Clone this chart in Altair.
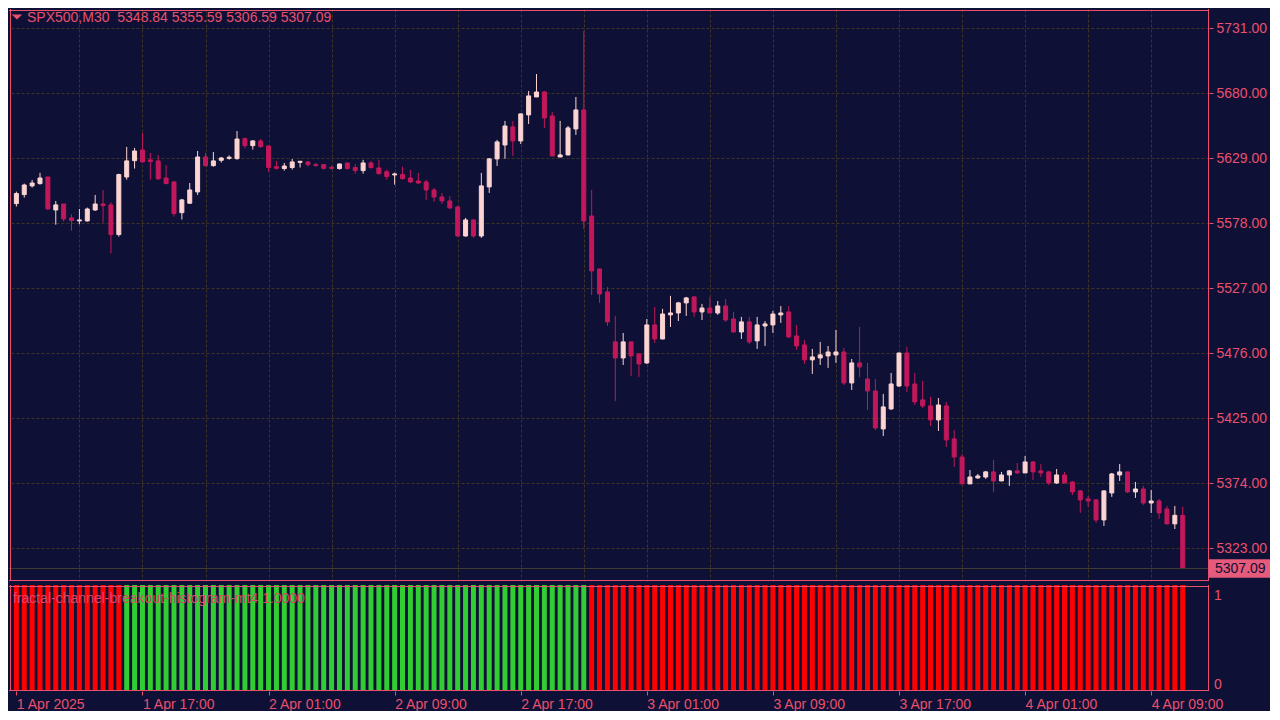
import json
import altair as alt
import pandas as pd

# ---------------- data ----------------
header_text = "SPX500,M30\u00a0\u00a05348.84 5355.59 5306.59 5307.09"
indicator_name = "fractal-channel-breakout-histogram-mt4 1.0000"

opens = [
    5593.4, 5600.5, 5607.3, 5609.1, 5614.3, 5588.4, 5593.1, 5582.2, 5579.8, 5579.8,
    5588.4, 5593.1, 5592.4, 5569.1, 5614.3, 5627.1, 5635.5, 5627.7, 5626.9, 5613.5,
    5610.4, 5586.3, 5593.7, 5602.6, 5630.0, 5623.2, 5627.4, 5628.9, 5628.7, 5644.4,
    5638.9, 5642.6, 5638.6, 5622.4, 5620.9, 5621.7, 5625.8, 5626.1, 5624.0, 5624.0,
    5621.9, 5620.9, 5625.3, 5621.7, 5619.3, 5625.3, 5621.4, 5618.5, 5615.9, 5616.2,
    5613.5, 5611.2, 5610.4, 5604.1, 5598.6, 5595.5, 5590.8, 5568.0, 5580.6, 5568.0,
    5606.5, 5628.5, 5639.4, 5653.6, 5642.6, 5663.0, 5677.1, 5681.0, 5662.2, 5630.0,
    5631.6, 5652.0, 5666.9, 5583.7, 5542.1, 5524.1, 5484.9, 5472.3, 5484.9, 5475.5,
    5468.4, 5498.2, 5487.2, 5506.1, 5507.6, 5515.5, 5520.2, 5508.4, 5511.5, 5507.6,
    5513.1, 5502.9, 5492.7, 5500.6, 5485.7, 5497.4, 5498.2, 5506.1, 5508.4, 5489.6,
    5482.5, 5470.8, 5472.3, 5473.9, 5474.7, 5477.0, 5452.7, 5468.4, 5455.8, 5446.4,
    5416.6, 5432.3, 5450.3, 5476.2, 5451.9, 5439.4, 5434.7, 5423.7, 5434.7, 5408.8,
    5394.6, 5373.5, 5378.2, 5378.9, 5382.9, 5375.8, 5380.5, 5383.7, 5382.1, 5390.7,
    5383.7, 5382.9, 5374.2, 5380.5, 5375.0, 5368.0, 5361.7, 5360.9, 5345.2, 5366.4,
    5380.5, 5382.9, 5367.2, 5369.5, 5358.5, 5360.1, 5353.8, 5342.1, 5348.84,
]
highs = [
    5602.8, 5609.1, 5612.0, 5617.5, 5614.3, 5595.5, 5593.1, 5585.0, 5589.2, 5590.3,
    5600.2, 5604.1, 5594.5, 5616.9, 5637.9, 5637.1, 5648.9, 5633.2, 5631.6, 5623.7,
    5611.2, 5597.1, 5609.6, 5634.7, 5633.2, 5633.9, 5630.0, 5631.3, 5650.4, 5645.2,
    5643.0, 5644.1, 5638.9, 5626.9, 5625.3, 5628.4, 5626.9, 5626.9, 5625.3, 5624.5,
    5623.2, 5624.8, 5625.3, 5624.3, 5627.7, 5626.9, 5627.7, 5620.1, 5617.7, 5622.4,
    5619.8, 5617.5, 5612.0, 5605.7, 5601.8, 5599.4, 5591.3, 5582.2, 5581.0, 5617.5,
    5629.2, 5643.4, 5658.3, 5658.3, 5664.0, 5681.8, 5695.1, 5681.8, 5665.3, 5658.3,
    5654.3, 5677.1, 5728.9, 5604.1, 5542.3, 5528.0, 5505.3, 5491.9, 5485.0, 5475.6,
    5502.9, 5512.3, 5510.8, 5521.0, 5516.3, 5520.2, 5520.5, 5514.7, 5520.2, 5517.0,
    5518.6, 5508.4, 5504.5, 5504.5, 5504.5, 5501.3, 5509.2, 5513.1, 5513.1, 5498.2,
    5486.4, 5479.4, 5484.9, 5481.7, 5494.3, 5480.2, 5471.5, 5496.6, 5468.4, 5455.8,
    5444.1, 5460.5, 5476.4, 5481.0, 5460.5, 5454.3, 5441.7, 5440.9, 5437.8, 5415.8,
    5397.0, 5384.4, 5381.3, 5383.7, 5392.3, 5382.9, 5384.4, 5389.9, 5395.4, 5391.5,
    5389.1, 5383.7, 5385.2, 5382.9, 5375.8, 5368.7, 5364.0, 5361.7, 5368.2, 5382.1,
    5389.1, 5383.0, 5375.0, 5371.9, 5368.7, 5361.7, 5356.2, 5356.2, 5355.59,
]
lows = [
    5591.1, 5598.1, 5606.0, 5608.3, 5588.7, 5576.9, 5579.3, 5572.2, 5577.2, 5579.3,
    5587.7, 5578.5, 5554.4, 5567.5, 5612.2, 5620.9, 5625.6, 5612.2, 5612.2, 5608.6,
    5583.2, 5580.9, 5593.4, 5600.2, 5622.4, 5622.4, 5625.6, 5627.9, 5627.9, 5636.8,
    5635.8, 5637.3, 5618.5, 5620.1, 5619.3, 5620.1, 5621.7, 5622.4, 5622.4, 5620.1,
    5620.1, 5620.1, 5620.1, 5616.9, 5616.9, 5620.9, 5616.2, 5612.2, 5608.3, 5612.2,
    5609.6, 5608.8, 5596.3, 5594.7, 5593.1, 5589.2, 5567.5, 5567.5, 5566.5, 5566.5,
    5601.8, 5623.0, 5628.5, 5630.8, 5640.2, 5655.9, 5677.0, 5652.8, 5630.5, 5629.8,
    5631.2, 5647.3, 5573.5, 5521.7, 5515.5, 5497.4, 5438.6, 5466.8, 5458.2, 5457.4,
    5467.6, 5484.1, 5487.0, 5496.6, 5501.3, 5505.3, 5504.5, 5502.1, 5507.4, 5506.1,
    5500.6, 5491.9, 5487.2, 5483.3, 5479.4, 5481.7, 5491.9, 5499.8, 5488.0, 5478.6,
    5467.6, 5459.8, 5466.8, 5464.5, 5468.4, 5451.1, 5447.2, 5457.4, 5431.5, 5415.8,
    5411.1, 5431.5, 5449.6, 5445.6, 5435.4, 5433.1, 5419.0, 5415.0, 5402.5, 5386.8,
    5373.3, 5373.3, 5377.4, 5377.4, 5367.2, 5375.6, 5371.9, 5381.3, 5382.0, 5376.6,
    5378.9, 5372.7, 5373.5, 5374.0, 5364.8, 5350.7, 5355.4, 5342.9, 5340.5, 5363.3,
    5375.8, 5366.4, 5362.5, 5357.0, 5350.7, 5346.0, 5341.9, 5338.1, 5306.59,
]
closes = [
    5601.3, 5608.0, 5609.6, 5613.5, 5589.2, 5592.4, 5581.4, 5580.1, 5580.6, 5589.2,
    5593.1, 5591.8, 5569.1, 5616.2, 5626.9, 5634.7, 5626.1, 5626.4, 5612.8, 5609.1,
    5585.6, 5596.3, 5604.1, 5630.0, 5623.2, 5626.9, 5629.2, 5629.8, 5644.1, 5638.9,
    5642.6, 5638.1, 5621.7, 5621.1, 5622.9, 5626.1, 5626.6, 5624.0, 5623.2, 5621.1,
    5621.1, 5624.5, 5620.9, 5619.3, 5625.3, 5621.7, 5616.9, 5614.6, 5616.7, 5613.0,
    5610.4, 5609.6, 5604.1, 5598.6, 5595.5, 5590.0, 5568.0, 5580.6, 5568.0, 5607.3,
    5628.5, 5641.8, 5654.3, 5642.6, 5663.8, 5677.9, 5681.0, 5660.6, 5630.8, 5631.6,
    5652.8, 5666.9, 5579.8, 5540.6, 5522.5, 5500.6, 5472.3, 5484.9, 5473.9, 5467.6,
    5498.2, 5487.2, 5506.8, 5507.6, 5515.5, 5519.4, 5508.4, 5511.5, 5507.6, 5513.1,
    5502.1, 5492.7, 5500.6, 5484.9, 5498.2, 5499.0, 5506.8, 5507.6, 5488.8, 5481.7,
    5470.8, 5473.1, 5474.7, 5477.0, 5477.0, 5452.7, 5468.4, 5465.3, 5446.4, 5417.4,
    5433.9, 5451.9, 5476.2, 5450.3, 5437.8, 5434.7, 5423.7, 5435.4, 5408.0, 5394.6,
    5373.5, 5378.9, 5379.7, 5382.9, 5375.8, 5380.5, 5383.7, 5382.1, 5390.7, 5382.9,
    5382.1, 5374.2, 5380.5, 5374.2, 5367.2, 5360.9, 5360.1, 5345.2, 5368.0, 5381.3,
    5382.9, 5367.2, 5369.5, 5358.5, 5360.1, 5350.7, 5342.1, 5348.84, 5307.09,
]

# histogram: G = green (1), R = red (1), one letter per bar
hist_state = (
    "RRRRRRRRRR" "RRRR"
    "GGGGGGGGGG" "GGGGGGGGGG" "GGGGGGGGGG" "GGGGGGGGGG" "GGGGGGGGGG" "GGGGGGGGG"
    "RRRRRRRRRR" "RRRRRRRRRR" "RRRRRRRRRR" "RRRRRRRRRR" "RRRRRRRRRR" "RRRRRRRRRR"
    "RRRRRRRRRR" "RRRRRR"
)
hist_value = [
    1, 1, 1, 1, 1, 1, 1, 1, 1, 1, 1, 1, 1, 1, 1, 1, 1, 1, 1, 1,
    1, 1, 1, 1, 1, 1, 1, 1, 1, 1, 1, 1, 1, 1, 1, 1, 1, 1, 1, 1,
    1, 1, 1, 1, 1, 1, 1, 1, 1, 1, 1, 1, 1, 1, 1, 1, 1, 1, 1, 1,
    1, 1, 1, 1, 1, 1, 1, 1, 1, 1, 1, 1, 1, 1, 1, 1, 1, 1, 1, 1,
    1, 1, 1, 1, 1, 1, 1, 1, 1, 1, 1, 1, 1, 1, 1, 1, 1, 1, 1, 1,
    1, 1, 1, 1, 1, 1, 1, 1, 1, 1, 1, 1, 1, 1, 1, 1, 1, 1, 1, 1,
    1, 1, 1, 1, 1, 1, 1, 1, 1, 1, 1, 1, 1, 1, 1, 1, 1, 1, 1, 1,
    1, 1, 1, 1, 1, 1, 1, 1, 1,
]

price_ticks = [5323.0, 5374.0, 5425.0, 5476.0, 5527.0, 5578.0, 5629.0, 5680.0, 5731.0]
time_tick_idx = [0, 16, 32, 48, 64, 80, 96, 112, 128, 144]
time_tick_labels = ["1 Apr 2025", "1 Apr 17:00", "2 Apr 01:00", "2 Apr 09:00", "2 Apr 17:00",
                    "3 Apr 01:00", "3 Apr 09:00", "3 Apr 17:00", "4 Apr 01:00", "4 Apr 09:00"]
vgrid_idx = [8, 16, 24, 32, 40, 48, 56, 64, 72, 80, 88, 96, 104, 112, 120, 128, 136, 144]

# ---------------- style ----------------
W = 1200
H_MAIN = 572
H_IND = 106
BG = "#0e1035"
PINK = "#e8506e"
BULL = "#fcd4d2"
BEAR = "#c2185b"
GRID = "#3c3523"
PRICE_LINE = "#403b32"
BOX = "#e65a7b"
GREEN = "#32cd32"
RED = "#ff0000"
FONT = "Liberation Sans"
FS = 14

n = len(opens)
df = pd.DataFrame({"i": list(range(n)), "o": opens, "h": highs, "l": lows, "c": closes})
df["dir"] = ["up" if c >= o else "down" for o, c in zip(opens, closes)]

x_dom = [-0.3, 150.7]
x_scale = alt.Scale(domain=x_dom, nice=False, zero=False)
y_scale = alt.Scale(domain=[5297.3, 5746.1], nice=False, zero=False)

x_axis_main = alt.Axis(values=vgrid_idx, grid=True, gridColor=GRID, gridDash=[3, 2], gridWidth=1,
                       labels=False, ticks=False, domain=False, title=None)
y_axis_main = alt.Axis(orient="right", values=price_ticks, format=".2f", grid=True, gridColor=GRID,
                       gridDash=[3, 2], gridWidth=1, tickSize=4, tickColor=PINK, labelColor=PINK,
                       labelFont=FONT, labelFontSize=FS, labelPadding=3, domain=False, title=None)

X = alt.X("i:Q", scale=x_scale, axis=x_axis_main)
dir_scale = alt.Scale(domain=["up", "down"], range=[BULL, BEAR])


def frame(w, h):
    """Four 1px border lines around a panel (panel styling, not data)."""
    one = pd.DataFrame({"k": [0]})
    base = alt.Chart(one).mark_rule(color=PINK, strokeWidth=1)
    return [
        base.encode(x=alt.value(1.5), y=alt.value(0), y2=alt.value(h)),
        base.encode(x=alt.value(w - 0.5), y=alt.value(0), y2=alt.value(h)),
        base.encode(y=alt.value(1.5), x=alt.value(0), x2=alt.value(w)),
        base.encode(y=alt.value(h - 0.5), x=alt.value(0), x2=alt.value(w)),
    ]


wicks = alt.Chart(df).mark_rule(strokeWidth=1).encode(
    x=X,
    y=alt.Y("l:Q", scale=y_scale, axis=y_axis_main),
    y2="h:Q",
    color=alt.Color("dir:N", scale=dir_scale, legend=None),
)
bodies = alt.Chart(df).mark_bar(size=4, strokeWidth=1).encode(
    x=X,
    y=alt.Y("o:Q", scale=y_scale, axis=y_axis_main),
    y2="c:Q",
    color=alt.Color("dir:N", scale=dir_scale, legend=None),
    stroke=alt.Stroke("dir:N", scale=dir_scale, legend=None),
)

last_df = pd.DataFrame({"p": [closes[-1]]})
price_line = alt.Chart(last_df).mark_rule(color=PRICE_LINE, strokeWidth=1).encode(
    y=alt.Y("p:Q", scale=y_scale, axis=y_axis_main)
)
price_box = alt.Chart(last_df).mark_point(
    shape="M-1,-0.3L1,-0.3L1,0.3L-1,0.3Z", size=3721, filled=True, opacity=1,
    color=BOX, strokeWidth=0
).encode(x=alt.value(W + 30.5), y=alt.Y("p:Q", scale=y_scale, axis=y_axis_main))
price_text = alt.Chart(last_df).mark_text(
    align="left", baseline="middle", font=FONT, fontSize=FS, color=BG
).encode(x=alt.value(W + 6), y=alt.Y("p:Q", scale=y_scale, axis=y_axis_main),
         text=alt.Text("p:Q", format=".2f"))

hdr_df = pd.DataFrame({"t": [header_text]})
triangle = alt.Chart(hdr_df).mark_point(
    shape="M-1,-0.5L1,-0.5L0,0.5Z", size=110, filled=True, opacity=1, color=PINK, strokeWidth=0
).encode(x=alt.value(8), y=alt.value(8))
header = alt.Chart(hdr_df).mark_text(
    align="left", baseline="middle", font=FONT, fontSize=FS, color=PINK
).encode(x=alt.value(18), y=alt.value(9), text="t:N")

main = alt.layer(wicks, bodies, price_line, price_box, price_text, triangle, header,
                 *frame(W, H_MAIN)).properties(width=W, height=H_MAIN)

# ---------------- indicator panel ----------------
hdf = pd.DataFrame({"i": list(range(n)), "v": hist_value, "s": list(hist_state)})
label_expr = json.dumps(time_tick_labels) + "[round(datum.value / 16)]"
x_axis_ind = alt.Axis(values=time_tick_idx, labelExpr=label_expr, labelAlign="left",
                      labelBaseline="top", labelFlush=False, labelOverlap=False,
                      tickSize=4, tickColor=PINK, labelColor=PINK, labelFont=FONT,
                      labelFontSize=FS, labelPadding=2, domain=False, grid=False, title=None)
ind_y_scale = alt.Scale(domain=[0, 1], nice=False, zero=True)

hist = alt.Chart(hdf).mark_bar(size=5).encode(
    x=alt.X("i:Q", scale=alt.Scale(domain=x_dom, nice=False, zero=False), axis=x_axis_ind),
    y=alt.Y("v:Q", scale=ind_y_scale, axis=None),
    color=alt.Color("s:N", scale=alt.Scale(domain=["G", "R"], range=[GREEN, RED]), legend=None),
)
name_df = pd.DataFrame({"t": [indicator_name]})
ind_label = alt.Chart(name_df).mark_text(
    align="left", baseline="middle", font=FONT, fontSize=FS, color="#d8486c"
).encode(x=alt.value(4), y=alt.value(14), text="t:N")

lv1 = alt.Chart(pd.DataFrame({"v": [1], "t": ["1"]})).mark_text(
    align="left", baseline="middle", font=FONT, fontSize=FS, color=PINK, dy=11
).encode(x=alt.value(W + 5), y=alt.Y("v:Q", scale=ind_y_scale, axis=None), text="t:N")
lv0 = alt.Chart(pd.DataFrame({"v": [0], "t": ["0"]})).mark_text(
    align="left", baseline="middle", font=FONT, fontSize=FS, color=PINK, dy=-6
).encode(x=alt.value(W + 5), y=alt.Y("v:Q", scale=ind_y_scale, axis=None), text="t:N")

ind = alt.layer(hist, ind_label, lv1, lv0, *frame(W, H_IND)).properties(width=W, height=H_IND)

chart = alt.vconcat(main, ind, spacing=2, padding=0).resolve_scale(
    x="independent", y="independent", color="independent", stroke="independent"
).configure(background=BG).configure_view(strokeWidth=0, stroke="transparent")

chart.save("out.html", embed_options={"renderer": "svg", "actions": False})
